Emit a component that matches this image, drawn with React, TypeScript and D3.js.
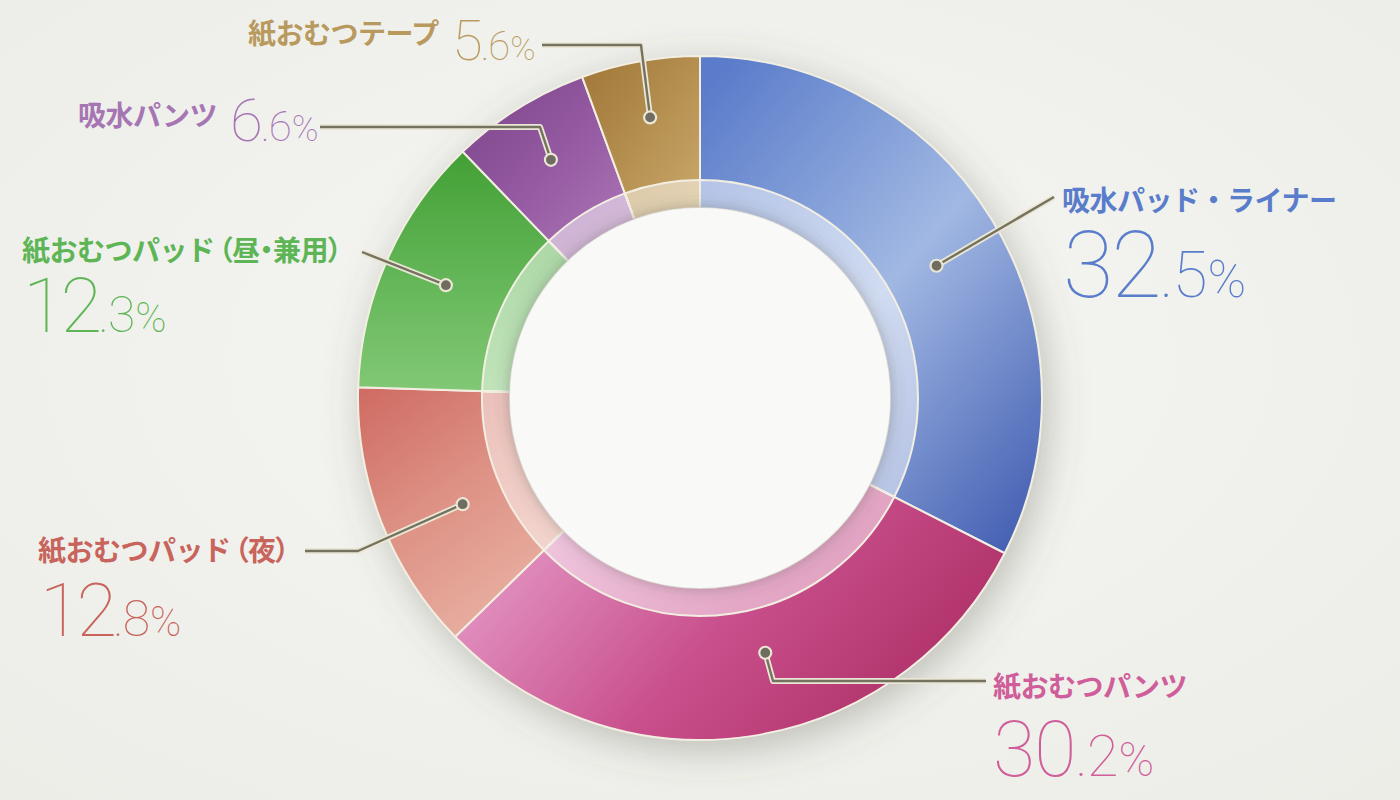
import * as React from "react";
import * as d3 from "d3";

// share of adult incontinence products (%)
const categories: string[] = [
    "吸水パッド・ライナー",
    "紙おむつパンツ",
    "紙おむつパッド（夜）",
    "紙おむつパッド（昼・兼用）",
    "吸水パンツ",
    "紙おむつテープ"
];
const shares: number[] = [32.5, 30.2, 12.8, 12.3, 6.6, 5.6];
const textColors: string[] = ["#5a7dcb", "#cf5e9a", "#c8645c", "#5eb556", "#a676b4", "#b89a5e"];
const sliceStops: string[][] = [
    ["#5a7cca", "#a1b8e3", "#4560b3"],
    ["#e59bc8", "#c9508d", "#ab2c62"],
    ["#cf6a62", "#dd9184", "#e8b0a2"],
    ["#43a035", "#62b556", "#82c876"],
    ["#7a4488", "#955aa2", "#b17cba"],
    ["#a07637", "#b48f50", "#cbab6c"]
];

interface SliceLayout {
    grad: [number, number, number, number];
    dotShift: number;
    dotR: number;
    elbows: [number, number][];
    name: [number, number];
    pct: [number, number];
    sizes: [number, number, number];
    bigSpacing: number;
}

const layout: SliceLayout[] = [
    { grad: [0.1, 0, 0.9, 1], dotShift: 0.04, dotR: 271, elbows: [[1054, 197]], name: [1062, 211], pct: [1063, 297], sizes: [92, 64, 52], bigSpacing: -2 },
    { grad: [0, 0.3, 1, 0.7], dotShift: -0.1, dotR: 263, elbows: [[773, 681], [986, 681]], name: [993, 697], pct: [993, 776], sizes: [77, 58, 48], bigSpacing: -1 },
    { grad: [0, 0, 0.6, 1], dotShift: -0.05, dotR: 260, elbows: [[358, 551], [305, 551]], name: [38, 561], pct: [40, 636], sizes: [74, 50, 42], bigSpacing: -4 },
    { grad: [0.5, 0, 0.5, 1], dotShift: 0, dotR: 278, elbows: [[362, 252]], name: [22, 261], pct: [23, 332], sizes: [76, 50, 42], bigSpacing: -4 },
    { grad: [0, 0, 1, 1], dotShift: 0, dotR: 281, elbows: [[540, 127], [320, 127]], name: [78, 126], pct: [230, 141], sizes: [60, 42, 36], bigSpacing: -2 },
    { grad: [0, 0, 1, 1], dotShift: 0, dotR: 285, elbows: [[641, 45], [542, 45]], name: [248, 44], pct: [452, 60], sizes: [56, 40, 34], bigSpacing: -2 }
];

const cx: number = 700;
const cy: number = 398;
const outerR: number = 342;
const innerR: number = 190;
const bandR: number = 218;

class DonutChart extends React.PureComponent {
    private holder: React.RefObject<SVGSVGElement | null> = React.createRef<SVGSVGElement>();

    public componentDidMount(): void {
        document.body.style.margin = "0";
        this.draw();
    }

    public render(): JSX.Element {
        return <svg ref={this.holder} width={1400} height={800} style={{ display: "block" }} />;
    }

    private draw(): void {
        const svg = d3.select(this.holder.current);
        svg.selectAll("*").remove();
        const defs = svg.append("defs");

        const bg = defs.append("radialGradient").attr("id", "bg")
            .attr("cx", "50%").attr("cy", "45%").attr("r", "75%");
        bg.append("stop").attr("offset", "0%").attr("stop-color", "#f6f6f3");
        bg.append("stop").attr("offset", "100%").attr("stop-color", "#ecede7");

        const shadow = defs.append("filter").attr("id", "ringShadow")
            .attr("x", "-30%").attr("y", "-30%").attr("width", "160%").attr("height", "160%");
        shadow.append("feDropShadow").attr("dx", 6).attr("dy", 10).attr("stdDeviation", 20)
            .attr("flood-color", "#5a5a50").attr("flood-opacity", 0.35);

        const holeShadow = defs.append("filter").attr("id", "holeShadow")
            .attr("x", "-20%").attr("y", "-20%").attr("width", "140%").attr("height", "140%");
        holeShadow.append("feDropShadow").attr("dx", 0).attr("dy", 0).attr("stdDeviation", 8)
            .attr("flood-color", "#4a4a44").attr("flood-opacity", 0.4);

        sliceStops.forEach((stops: string[], i: number) => {
            const g = layout[i].grad;
            const lg = defs.append("linearGradient").attr("id", `slice${i}`)
                .attr("x1", g[0]).attr("y1", g[1]).attr("x2", g[2]).attr("y2", g[3]);
            stops.forEach((c: string, j: number) => {
                lg.append("stop").attr("offset", j / (stops.length - 1)).attr("stop-color", c);
            });
        });

        svg.append("rect").attr("width", 1400).attr("height", 800).attr("fill", "url(#bg)");

        const pie = d3.pie<number>().sort(null).value((d: number) => d);
        const arcs = pie(shares);
        const arc = d3.arc<d3.PieArcDatum<number>>().innerRadius(innerR).outerRadius(outerR);
        const band = d3.arc<d3.PieArcDatum<number>>().innerRadius(innerR - 2).outerRadius(bandR);

        const g = svg.append("g").attr("transform", `translate(${cx},${cy})`);

        g.append("circle").attr("r", outerR).attr("fill", "#d8d6cc").attr("filter", "url(#ringShadow)");

        g.selectAll(".slice")
            .data(arcs).enter().append("path")
            .attr("class", "slice")
            .attr("d", arc)
            .attr("fill", (d: d3.PieArcDatum<number>, i: number) => `url(#slice${i})`)
            .attr("stroke", "#f2efe2")
            .attr("stroke-width", 2);

        g.selectAll(".band")
            .data(arcs).enter().append("path")
            .attr("class", "band")
            .attr("d", band)
            .attr("fill", "#ffffff")
            .attr("fill-opacity", 0.5)
            .attr("stroke", "#f2efe2")
            .attr("stroke-width", 2);

        g.append("circle").attr("r", innerR).attr("fill", "#f9f9f8").attr("filter", "url(#holeShadow)");

        // leader lines
        const line = d3.line<[number, number]>();
        arcs.forEach((a: d3.PieArcDatum<number>, i: number) => {
            const L = layout[i];
            const dotArc = d3.arc<d3.PieArcDatum<number>>().innerRadius(L.dotR).outerRadius(L.dotR);
            const shifted = { ...a, startAngle: a.startAngle + L.dotShift, endAngle: a.endAngle + L.dotShift };
            const c = dotArc.centroid(shifted);
            const dot: [number, number] = [c[0] + cx, c[1] + cy];
            const pts: [number, number][] = [dot, ...L.elbows];
            svg.append("path").attr("d", line(pts)).attr("fill", "none")
                .attr("stroke", "#ebe7d6").attr("stroke-width", 6).attr("stroke-linejoin", "round");
            svg.append("path").attr("d", line(pts)).attr("fill", "none")
                .attr("stroke", "#75725f").attr("stroke-width", 2.4).attr("stroke-linejoin", "round");
            svg.append("circle").attr("cx", dot[0]).attr("cy", dot[1]).attr("r", 6)
                .attr("fill", "#6f6d5f").attr("stroke", "#ebe7d6").attr("stroke-width", 2.2);
        });

        // labels
        categories.forEach((name: string, i: number) => {
            const L = layout[i];
            const t = svg.append("text").attr("x", L.name[0]).attr("y", L.name[1])
                .attr("fill", textColors[i])
                .style("font-family", "'Noto Sans CJK JP', sans-serif")
                .style("font-weight", 700)
                .style("font-size", "28px")
                .style("letter-spacing", "-0.5px");
            const k = name.indexOf("（");
            if (k >= 0) {
                t.append("tspan").text(name.slice(0, k));
                t.append("tspan").style("font-feature-settings", "'palt'").attr("dx", 4).text(name.slice(k));
            } else {
                t.text(name);
            }

            const parts = shares[i].toFixed(1).split(".");
            const p = svg.append("text").attr("x", L.pct[0]).attr("y", L.pct[1])
                .attr("fill", textColors[i])
                .style("font-family", "Roboto, 'Open Sans', sans-serif")
                .style("font-weight", 100);
            p.append("tspan").style("font-size", `${L.sizes[0]}px`)
                .style("letter-spacing", `${L.bigSpacing}px`).text(parts[0]);
            p.append("tspan").style("font-size", `${L.sizes[1]}px`)
                .style("letter-spacing", "-1px").text(`.${parts[1]}`);
            p.append("tspan").style("font-size", `${L.sizes[2]}px`).attr("dx", 1).text("%");
        });
    }
}

export default function App(): JSX.Element {
    return <DonutChart />;
}
